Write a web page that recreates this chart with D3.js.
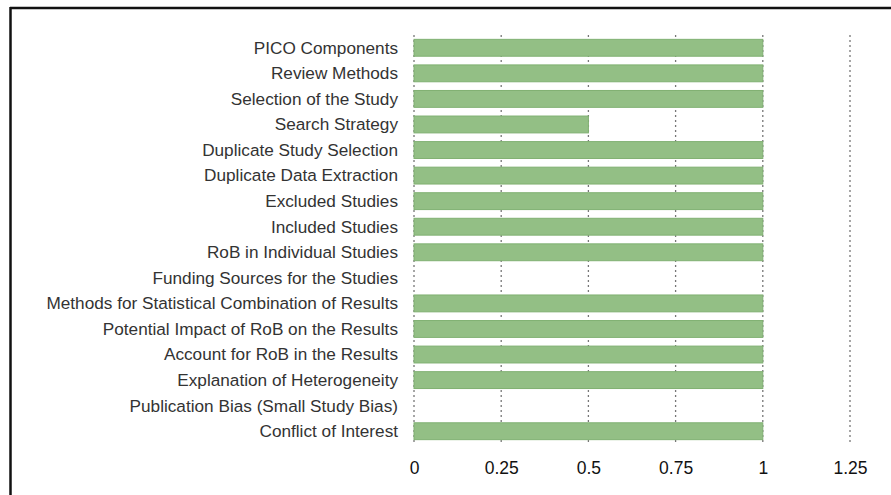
<!DOCTYPE html>
<html><head><meta charset="utf-8">
<script src="https://cdn.jsdelivr.net/npm/d3@7"></script>
<style>
html,body{margin:0;padding:0;background:#fff;}
svg{display:block;}
</style>
</head><body>
<svg id="chart" width="891" height="495"></svg>
<script>
const categories = [
  "PICO Components","Review Methods","Selection of the Study","Search Strategy",
  "Duplicate Study Selection","Duplicate Data Extraction","Excluded Studies","Included Studies",
  "RoB in Individual Studies","Funding Sources for the Studies",
  "Methods for Statistical Combination of Results","Potential Impact of RoB on the Results",
  "Account for RoB in the Results","Explanation of Heterogeneity",
  "Publication Bias (Small Study Bias)","Conflict of Interest"
];
const values = [1,1,1,0.5,1,1,1,1,1,0,1,1,1,1,0,1];
const tickValues = [0,0.25,0.5,0.75,1,1.25];
const tickLabels = ["0","0.25","0.5","0.75","1","1.25"];

const svg = d3.select("#chart");
const W = 891, H = 495;

// frame
svg.append("line").attr("x1",10).attr("x2",W).attr("y1",8).attr("y2",8).attr("stroke","#111").attr("stroke-width",2.5);
svg.append("line").attr("x1",10.5).attr("x2",10.5).attr("y1",7).attr("y2",H).attr("stroke","#111").attr("stroke-width",2.5);

const x = d3.scaleLinear().domain([0,1.25]).range([414,850]);
const y = d3.scaleBand().domain(categories).range([35,444]).paddingInner(0.34).paddingOuter(0.17);

const font = "'Liberation Sans', Arial, Helvetica, sans-serif";

// grid lines
svg.append("g").selectAll("line").data(tickValues).join("line")
  .attr("x1",d=>x(d)).attr("x2",d=>x(d))
  .attr("y1",35).attr("y2",443)
  .attr("stroke","#777").attr("stroke-width",1.3).attr("stroke-dasharray","2,3");

// bars
svg.append("g").selectAll("rect").data(categories.map((c,i)=>({c,v:values[i]})).filter(d=>d.v>0)).join("rect")
  .attr("x",x(0)).attr("y",d=>y(d.c))
  .attr("width",d=>x(d.v)-x(0)).attr("height",y.bandwidth())
  .attr("fill","#93bf85").attr("stroke","#80b072").attr("stroke-width",1);

// y labels
const yAxis = d3.axisLeft(y).tickSize(0).tickPadding(0);
const gy = svg.append("g").attr("transform","translate(398,0)").call(yAxis);
gy.select(".domain").remove();
gy.selectAll("text").attr("font-family",font).attr("font-size","17.2px").attr("fill","#333").attr("dy","0.34em");

// x labels
const xAxis = d3.axisBottom(x).tickValues(tickValues).tickFormat((d,i)=>tickLabels[i]).tickSize(0).tickPadding(0);
const gx = svg.append("g").attr("transform","translate(0,474)").call(xAxis);
gx.select(".domain").remove();
gx.selectAll("text").attr("font-family",font).attr("font-size","17.5px").attr("fill","#111").attr("dy","0");
</script>
</body></html>
